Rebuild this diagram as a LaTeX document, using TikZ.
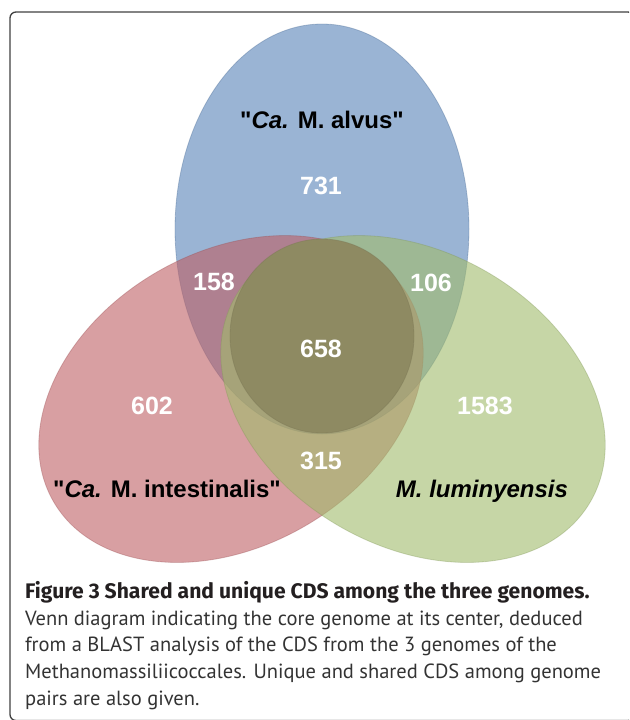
\documentclass[tikz,border=0pt]{standalone}
\usepackage{fontspec}
\setmainfont{Liberation Sans}[Ligatures=TeXOff]
\newfontfamily\capfont{PT Sans}
\newfontfamily\headfont{Fira Sans}
\definecolor{alvusblue}{RGB}{87,130,183}
\definecolor{intred}{RGB}{190,95,100}
\definecolor{lumgreen}{RGB}{160,187,107}
\definecolor{coreolive}{RGB}{142,138,98}
\definecolor{captext}{RGB}{35,31,32}
\begin{document}
\begin{tikzpicture}[x=1pt,y=-1pt]
\tikzset{
  num/.style={text=white, font=\fontsize{25}{30}\selectfont\bfseries, anchor=base, inner sep=0pt},
  lab/.style={font=\fontsize{24}{28}\selectfont\bfseries, anchor=base, inner sep=0pt},
  venn/.style={fill=#1, fill opacity=0.6, draw=#1!80!black, draw opacity=0.35, line width=0.8pt}
}
\useasboundingbox (0,0) rectangle (629,720);
\clip (0,0) rectangle (629,720);
\pgfmathsetmacro{\ra}{147};
\pgfmathsetmacro{\rb}{205};

% frame
\draw[line width=1.3pt, draw=black!75, rounded corners=6pt] (10,12) rectangle (634,720.5);

\coordinate (B) at (322,229);
\coordinate (R) at (231,399);
\coordinate (G) at (413,399);
\coordinate (O) at (322,336);

% the three genomes
\draw[venn=alvusblue] (B) ellipse [x radius=\ra, y radius=\rb];
\draw[venn=intred, rotate around={30:(R)}] (R) ellipse [x radius=\rb, y radius=\ra];
\draw[venn=lumgreen, rotate around={-30:(G)}] (G) ellipse [x radius=\rb, y radius=\ra];

% core genome
\draw[fill=coreolive, draw=coreolive!85!black, draw opacity=0.4, line width=0.8pt]
  (O) ellipse [x radius=92, y radius=97];

\node[lab] (alvus) at (322,128) {"\textit{Ca.} M. alvus"};
\node[lab] (intest) at (167,497) {"\textit{Ca.} M. intestinalis"};
\node[lab] (lumin) at (482,497) {\textit{M. luminyensis}};

\node[num] (n731) at (321,194) {731};
\node[num] (n158) at (214,290) {158};
\node[num] (n106) at (431,291) {106};
\node[num] (n658) at (321,357) {658};
\node[num] (n602) at (152,414) {602};
\node[num] (n1583) at (485,414) {1583};
\node[num] (n315) at (321,469) {315};

\node[anchor=base west, align=left, inner sep=0pt, text=black!80,
  font=\capfont\fontsize{20.5}{26.6}\selectfont] (caption) at (25,705)
  {{\color{captext}\headfont\fontsize{21.1}{26.6}\selectfont\bfseries Figure 3 Shared and unique CDS among the three genomes.}\\
   Venn diagram indicating the core genome at its center, deduced\\
   from a BLAST analysis of the CDS from the 3 genomes of the\\
   Methanomassiliicoccales. Unique and shared CDS among genome\\
   pairs are also given.};
\end{tikzpicture}
\end{document}
